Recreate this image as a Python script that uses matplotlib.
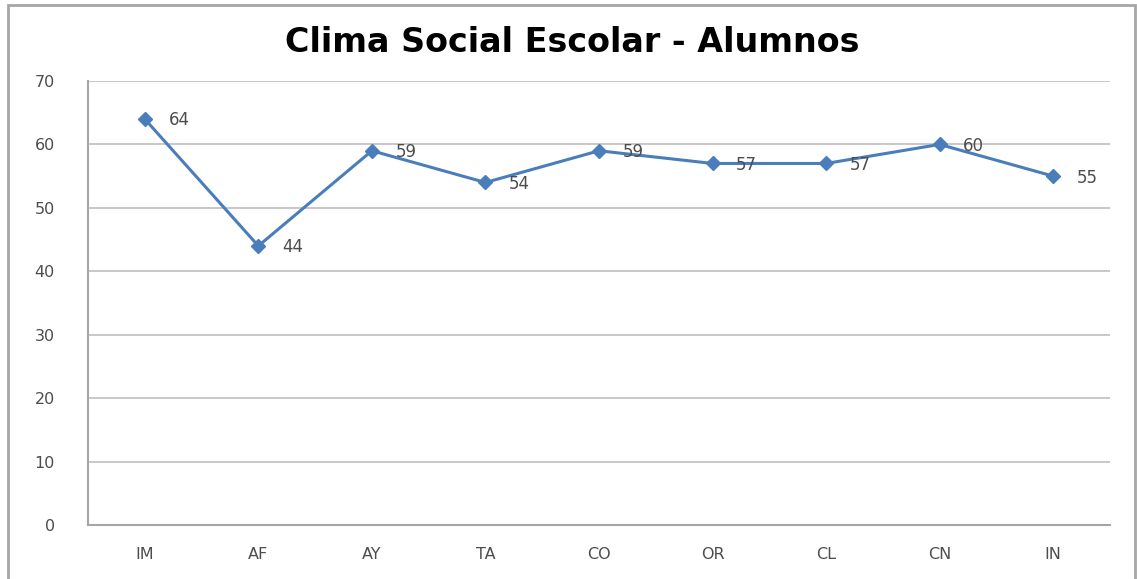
import matplotlib.pyplot as plt
from matplotlib.patches import Rectangle

categories = ["IM", "AF", "AY", "TA", "CO", "OR", "CL", "CN", "IN"]
values = [64, 44, 59, 54, 59, 57, 57, 60, 55]
y_ticks = [0, 10, 20, 30, 40, 50, 60, 70]

line_color = "#4A7EBB"
text_color = "#4D4D4D"
grid_color = "#BFBFBF"

plt.rcParams["font.family"] = ["DejaVu Sans"]

fig = plt.figure(figsize=(11.37, 5.79), dpi=100, facecolor="white")
ax = fig.add_axes([88 / 1137, 1 - 525 / 579, (1110 - 88) / 1137, (525 - 81) / 579])

# outer chart frame
fig.patches.append(Rectangle((8 / 1137, -0.02), 1127 / 1137, 1.011,
                             transform=fig.transFigure, fill=False,
                             edgecolor="#A6A6A6", linewidth=2))

x = list(range(len(categories)))
ax.plot(x, values, color=line_color, linewidth=2.2, marker="D", markersize=7,
        markerfacecolor=line_color, markeredgecolor=line_color, zorder=3)

for xi, v in zip(x, values):
    ax.annotate(str(v), (xi, v), xytext=(17, -1), textcoords="offset points",
                va="center", ha="left", fontsize=12, color=text_color)

ax.set_xlim(-0.5, len(categories) - 0.5)
ax.set_ylim(0, 70)
ax.set_yticks(y_ticks)
ax.set_xticks(x)
ax.set_xticklabels(categories)
ax.tick_params(axis="both", length=0, labelsize=11.5, colors=text_color)
ax.tick_params(axis="y", pad=24)
ax.tick_params(axis="x", pad=16)

ax.grid(axis="y", color=grid_color, linewidth=1.2)
ax.set_axisbelow(True)
for side in ("top", "right"):
    ax.spines[side].set_visible(False)
for side in ("left", "bottom"):
    ax.spines[side].set_color("#A6A6A6")
    ax.spines[side].set_linewidth(1.5)

fig.text(572 / 1137, 1 - 43 / 579, "Clima Social Escolar - Alumnos",
         ha="center", va="center", fontsize=24, fontweight="bold", color="black")

fig.savefig("out.png", dpi=100, facecolor="white")
